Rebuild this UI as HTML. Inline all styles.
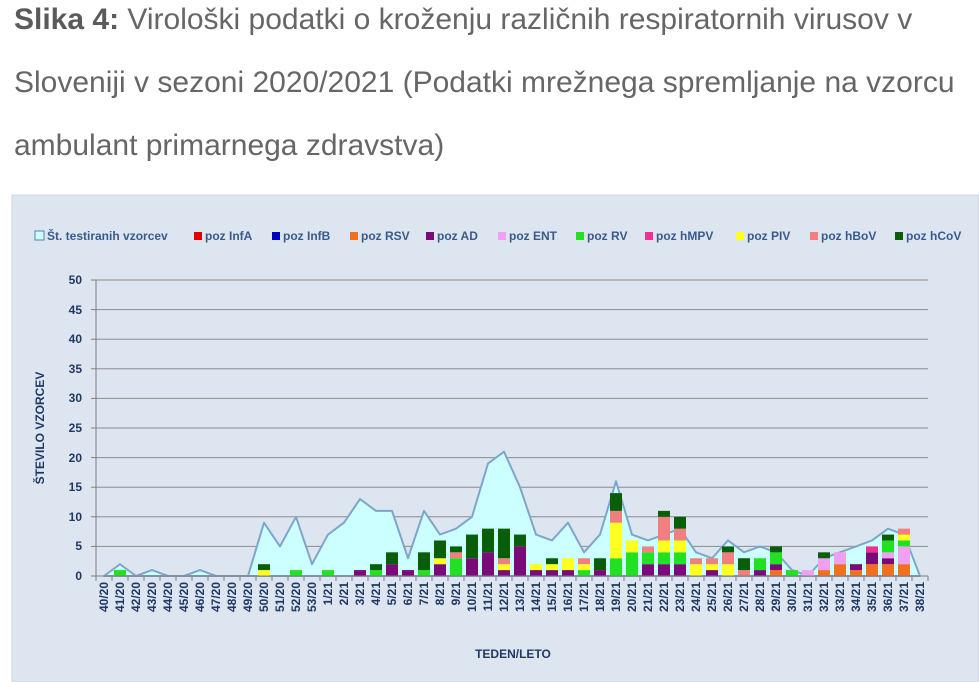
<!DOCTYPE html>
<html><head><meta charset="utf-8"><style>
body{margin:0;width:979px;height:682px;overflow:hidden;background:#fff;font-family:"Liberation Sans",sans-serif}
.t{position:absolute;left:14px;font-size:30px;color:#666;white-space:nowrap;line-height:32px}
.t b{color:#5a5a5a}
</style></head><body>
<div class="t" style="top:4px"><b>Slika 4:</b> Virološki podatki o kroženju različnih respiratornih virusov v</div>
<div class="t" style="top:67px">Sloveniji v sezoni 2020/2021 (Podatki mrežnega spremljanje na vzorcu</div>
<div class="t" style="top:130px">ambulant primarnega zdravstva)</div>
<svg style="position:absolute;left:0;top:0" width="979" height="682" xmlns="http://www.w3.org/2000/svg">
<rect x="12" y="195" width="967" height="487" fill="#dde5f0" stroke="#cdd6e2"/>
<g id="grid" stroke="#8c8c8c" stroke-width="1"></g>
<polygon id="area" fill="#ccffff" stroke="#7fa6c8" stroke-width="2" stroke-linejoin="round"/>
<g id="bars"></g>
<line x1="96" y1="280" x2="96" y2="576" stroke="#808080"/>
<line x1="96" y1="576" x2="928" y2="576" stroke="#808080"/>
<g id="ticks" stroke="#808080"></g>
<g font-size="12" font-weight="bold" fill="#1f3864" text-anchor="end">
<text x="82" y="284">50</text><text x="82" y="314">45</text><text x="82" y="343">40</text><text x="82" y="373">35</text><text x="82" y="402">30</text><text x="82" y="432">25</text><text x="82" y="462">20</text><text x="82" y="491">15</text><text x="82" y="521">10</text><text x="82" y="550">5</text><text x="82" y="580">0</text>
</g>
<text transform="translate(44,428) rotate(-90)" text-anchor="middle" font-size="12" font-weight="bold" fill="#1f3864">ŠTEVILO VZORCEV</text>
<text x="513" y="658" text-anchor="middle" font-size="12" font-weight="bold" fill="#1f3864">TEDEN/LETO</text>
<g font-size="12" font-weight="bold" fill="#1f3864" text-anchor="end">
<text transform="translate(108,582) rotate(-90)">40/20</text><text transform="translate(124,582) rotate(-90)">41/20</text><text transform="translate(140,582) rotate(-90)">42/20</text><text transform="translate(156,582) rotate(-90)">43/20</text><text transform="translate(172,582) rotate(-90)">44/20</text><text transform="translate(188,582) rotate(-90)">45/20</text><text transform="translate(204,582) rotate(-90)">46/20</text><text transform="translate(220,582) rotate(-90)">47/20</text><text transform="translate(236,582) rotate(-90)">48/20</text><text transform="translate(252,582) rotate(-90)">49/20</text><text transform="translate(268,582) rotate(-90)">50/20</text><text transform="translate(284,582) rotate(-90)">51/20</text><text transform="translate(300,582) rotate(-90)">52/20</text><text transform="translate(316,582) rotate(-90)">53/20</text>
<text transform="translate(332,582) rotate(-90)">1/21</text><text transform="translate(348,582) rotate(-90)">2/21</text><text transform="translate(364,582) rotate(-90)">3/21</text><text transform="translate(380,582) rotate(-90)">4/21</text><text transform="translate(396,582) rotate(-90)">5/21</text><text transform="translate(412,582) rotate(-90)">6/21</text><text transform="translate(428,582) rotate(-90)">7/21</text><text transform="translate(444,582) rotate(-90)">8/21</text><text transform="translate(460,582) rotate(-90)">9/21</text><text transform="translate(476,582) rotate(-90)">10/21</text><text transform="translate(492,582) rotate(-90)">11/21</text><text transform="translate(508,582) rotate(-90)">12/21</text><text transform="translate(524,582) rotate(-90)">13/21</text><text transform="translate(540,582) rotate(-90)">14/21</text><text transform="translate(556,582) rotate(-90)">15/21</text><text transform="translate(572,582) rotate(-90)">16/21</text><text transform="translate(588,582) rotate(-90)">17/21</text><text transform="translate(604,582) rotate(-90)">18/21</text><text transform="translate(620,582) rotate(-90)">19/21</text><text transform="translate(636,582) rotate(-90)">20/21</text><text transform="translate(652,582) rotate(-90)">21/21</text><text transform="translate(668,582) rotate(-90)">22/21</text><text transform="translate(684,582) rotate(-90)">23/21</text><text transform="translate(700,582) rotate(-90)">24/21</text><text transform="translate(716,582) rotate(-90)">25/21</text><text transform="translate(732,582) rotate(-90)">26/21</text><text transform="translate(748,582) rotate(-90)">27/21</text><text transform="translate(764,582) rotate(-90)">28/21</text><text transform="translate(780,582) rotate(-90)">29/21</text><text transform="translate(796,582) rotate(-90)">30/21</text><text transform="translate(812,582) rotate(-90)">31/21</text><text transform="translate(828,582) rotate(-90)">32/21</text><text transform="translate(844,582) rotate(-90)">33/21</text><text transform="translate(860,582) rotate(-90)">34/21</text><text transform="translate(876,582) rotate(-90)">35/21</text><text transform="translate(892,582) rotate(-90)">36/21</text><text transform="translate(908,582) rotate(-90)">37/21</text><text transform="translate(924,582) rotate(-90)">38/21</text>
</g>
<g font-size="12" font-weight="bold" fill="#3a5a8a">
<rect x="35" y="231" width="9" height="9" fill="#ccffff" stroke="#5a7fa8"/><text x="47" y="240">Št. testiranih vzorcev</text>
<rect x="194" y="232" width="8" height="8" fill="#e00000"/><text x="205" y="240">poz InfA</text>
<rect x="272" y="232" width="8" height="8" fill="#0000c0"/><text x="283" y="240">poz InfB</text>
<rect x="350" y="232" width="8" height="8" fill="#f07020"/><text x="361" y="240">poz RSV</text>
<rect x="426" y="232" width="8" height="8" fill="#7a0a7a"/><text x="437" y="240">poz AD</text>
<rect x="498" y="232" width="8" height="8" fill="#f0a0f0"/><text x="509" y="240">poz ENT</text>
<rect x="576" y="232" width="8" height="8" fill="#22e022"/><text x="587" y="240">poz RV</text>
<rect x="645" y="232" width="8" height="8" fill="#f03090"/><text x="656" y="240">poz hMPV</text>
<rect x="736" y="232" width="8" height="8" fill="#ffff20"/><text x="747" y="240">poz PIV</text>
<rect x="810" y="232" width="8" height="8" fill="#f08080"/><text x="821" y="240">poz hBoV</text>
<rect x="895" y="232" width="8" height="8" fill="#0a5e0a"/><text x="906" y="240">poz hCoV</text>
</g>
</svg>
<script>
var NS="http://www.w3.org/2000/svg",u=5.92,B=576;
function el(p,t,a){var e=document.createElementNS(NS,t);for(var k in a)e.setAttribute(k,a[k]);document.getElementById(p).appendChild(e);}
for(var v=5;v<=50;v+=5)el("grid","line",{x1:96,x2:928,y1:B-v*u,y2:B-v*u});
for(var v=0;v<=50;v+=5)el("ticks","line",{x1:91,x2:96,y1:B-v*u,y2:B-v*u});
for(var k=0;k<=52;k++)el("ticks","line",{x1:96+16*k,x2:96+16*k,y1:576,y2:581});
var tot=[0,2,0,1,0,0,1,0,0,0,9,5,10,2,7,9,13,11,11,3,11,7,8,10,19,21,15,7,6,9,4,7,16,7,6,7,8,4,3,6,4,5,4,1,0,3,4,5,6,8,7,0];
var pts=["104,576"];for(var i=0;i<52;i++)pts.push((104+16*i)+","+(B-tot[i]*u));pts.push("920,576");
document.getElementById("area").setAttribute("points",pts.join(" "));
var col={RSV:"#f07020",AD:"#7a0a7a",ENT:"#f0a0f0",RV:"#22e022",hMPV:"#f03090",PIV:"#ffff20",hBoV:"#f08080",hCoV:"#0a5e0a"};
var S={1:[["RV",1]],10:[["PIV",1],["hCoV",1]],12:[["RV",1]],14:[["RV",1]],16:[["AD",1]],17:[["RV",1],["hCoV",1]],18:[["AD",2],["hCoV",2]],19:[["AD",1]],20:[["RV",1],["hCoV",3]],21:[["AD",2],["PIV",1],["hCoV",3]],22:[["RV",3],["hBoV",1],["hCoV",1]],23:[["AD",3],["hCoV",4]],24:[["AD",4],["hCoV",4]],25:[["AD",1],["PIV",1],["hBoV",1],["hCoV",5]],26:[["AD",5],["hCoV",2]],27:[["AD",1],["PIV",1]],28:[["AD",1],["PIV",1],["hCoV",1]],29:[["AD",1],["PIV",2]],30:[["RV",1],["PIV",1],["hBoV",1]],31:[["AD",1],["hCoV",2]],32:[["RV",3],["PIV",6],["hBoV",2],["hCoV",3]],33:[["RV",4],["PIV",2]],34:[["AD",2],["RV",2],["hBoV",1]],35:[["AD",2],["RV",2],["PIV",2],["hBoV",4],["hCoV",1]],36:[["AD",2],["RV",2],["PIV",2],["hBoV",2],["hCoV",2]],37:[["PIV",2],["hBoV",1]],38:[["AD",1],["PIV",1],["hBoV",1]],39:[["PIV",2],["hBoV",2],["hCoV",1]],40:[["hBoV",1],["hCoV",2]],41:[["AD",1],["RV",2]],42:[["RSV",1],["AD",1],["RV",2],["hCoV",1]],43:[["RV",1]],44:[["ENT",1]],45:[["RSV",1],["ENT",2],["hCoV",1]],46:[["RSV",2],["ENT",2]],47:[["RSV",1],["AD",1]],48:[["RSV",2],["AD",2],["hMPV",1]],49:[["RSV",2],["AD",1],["ENT",1],["RV",2],["hCoV",1]],50:[["RSV",2],["ENT",3],["RV",1],["PIV",1],["hBoV",1]]};
for(var i in S){var y=B;S[i].forEach(function(s){var h=s[1]*u;y-=h;el("bars","rect",{x:98+16*i,y:y,width:12,height:h,fill:col[s[0]]});});}
</script>
</body></html>
